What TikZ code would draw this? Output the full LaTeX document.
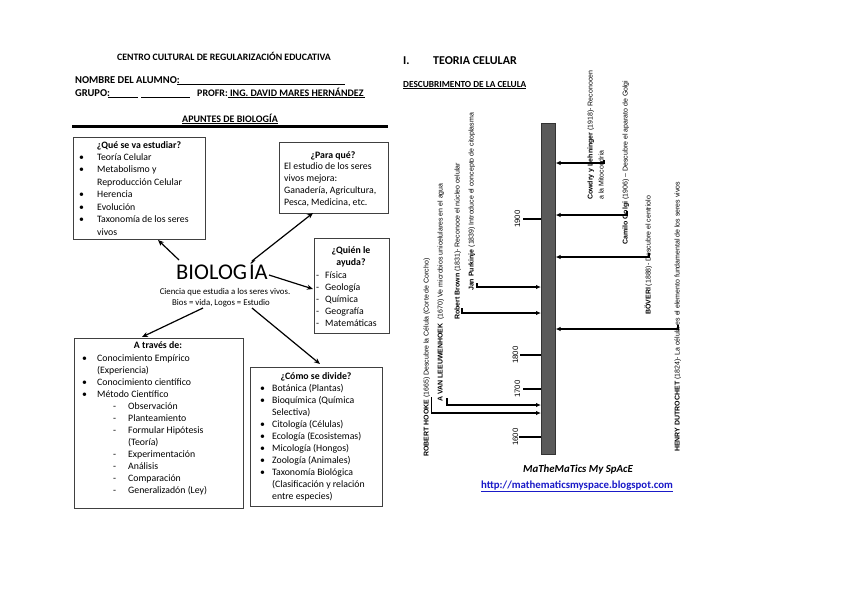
\documentclass[tikz,border=0pt]{standalone}
\usepackage{fontspec}
\setmainfont{Carlito}
\newfontfamily\tlf{Liberation Sans}
\usetikzlibrary{arrows.meta}
\definecolor{barfill}{HTML}{5A5A5A}
\definecolor{linkblue}{HTML}{1A1AC8}
\newcommand{\fs}[2]{\fontsize{#1}{#2}\selectfont}
\newcommand{\bul}[1]{\makebox[#1][l]{\textbullet}}
\newcommand{\dsh}[1]{\makebox[#1][l]{-}}
\begin{document}
\begin{tikzpicture}[x=1pt,y=-1pt,
  box/.style={draw=black!75, line width=0.9pt, inner sep=0, anchor=north west},
  ttl/.style={inner sep=0, anchor=base, font=\fs{9.8}{12.5}\bfseries},
  lst/.style={inner sep=0, anchor=base west, font=\fs{9.8}{12}},
  hdr/.style={inner sep=0, anchor=base west, font=\fs{10.5}{12}\bfseries},
  arr/.style={-{Stealth[length=6pt,width=5pt]}, line width=1.2pt},
  tarr/.style={-{Latex[length=5pt,width=4.5pt]}, line width=1.4pt},
  tickln/.style={line width=2pt},
  tl/.style={rotate=90, inner sep=0, anchor=base west, font=\tlf\fs{7}{8}},
  yr/.style={rotate=90, inner sep=0.5pt, anchor=south, font=\tlf\fs{7.8}{8}},
]
\useasboundingbox (0,0) rectangle (842,595);
\fill[white] (0,0) rectangle (842,595);

% ---------- header ----------
\node[inner sep=0, anchor=base, font=\fs{9.8}{11}\bfseries] (h1) at (224,60) {CENTRO CULTURAL DE REGULARIZACIÓN EDUCATIVA};
\node[hdr] (h2) at (75,83) {NOMBRE DEL ALUMNO:};
\draw[line width=0.6pt] (177,84.5) -- (345,84.5);
\node[hdr] (h3) at (75,96) {GRUPO:};
\draw[line width=0.6pt] (108,97.5) -- (138,97.5);
\draw[line width=0.6pt] (141,97.5) -- (190,97.5);
\node[hdr, font=\fs{10}{12}\bfseries] (h4) at (197,96) {PROFR:\underline{\ ING.\ DAVID\ MARES HERNÁNDEZ\,}};
\node[inner sep=0, anchor=base, font=\fs{10}{12}\bfseries] (h5) at (230,122) {\underline{APUNTES DE BIOLOGÍA}};
\draw[line width=3pt] (72,126) -- (388,126);

% ---------- box 1 ----------
\node[box, minimum width=132pt, minimum height=102pt] (b1) at (73,137) {};
\node[ttl] (b1t) at (139,148) {¿Qué se va estudiar?};
\node[lst, font=\fs{9.8}{12.5}] (b1l) at (79,160) {\begin{tabular}[t]{@{}l@{}}
\bul{18pt}Teoría Celular\\
\bul{18pt}Metabolismo y\\
\hspace{18pt}Reproducción Celular\\
\bul{18pt}Herencia\\
\bul{18pt}Evolución\\
\bul{18pt}Taxonomía de los seres\\
\hspace{18pt}vivos
\end{tabular}};

% ---------- box 2 ----------
\node[box, minimum width=109pt, minimum height=71pt] (b2) at (279,142) {};
\node[ttl] (b2t) at (333,158) {¿Para qué?};
\node[lst] (b2l) at (284,169) {\begin{tabular}[t]{@{}l@{}}
El estudio de los seres\\
vivos mejora:\\
Ganadería, Agricultura,\\
Pesca, Medicina, etc.
\end{tabular}};

% ---------- box 3 ----------
\node[box, minimum width=75pt, minimum height=95pt] (b3) at (314,238) {};
\node[ttl] (b3t) at (351,253) {\begin{tabular}[t]{@{}c@{}}¿Quién le\\ayuda?\end{tabular}};
\node[lst] (b3l) at (316,278) {\begin{tabular}[t]{@{}l@{}}
\dsh{9pt}Física\\
\dsh{9pt}Geología\\
\dsh{9pt}Química\\
\dsh{9pt}Geografía\\
\dsh{9pt}Matemáticas
\end{tabular}};

% ---------- box 4 ----------
\node[box, minimum width=169pt, minimum height=170pt] (b4) at (74,338) {};
\node[ttl] (b4t) at (158,348) {A través de:};
\node[lst] (b4l) at (82,361) {\begin{tabular}[t]{@{}l@{}}
\bul{15pt}Conocimiento Empírico\\
\hspace{15pt}(Experiencia)\\
\bul{15pt}Conocimiento científico\\
\bul{15pt}Método Científico\\
\hspace{31pt}\dsh{15pt}Observación\\
\hspace{31pt}\dsh{15pt}Planteamiento\\
\hspace{31pt}\dsh{15pt}Formular Hipótesis\\
\hspace{46pt}(Teoría)\\
\hspace{31pt}\dsh{15pt}Experimentación\\
\hspace{31pt}\dsh{15pt}Análisis\\
\hspace{31pt}\dsh{15pt}Comparación\\
\hspace{31pt}\dsh{15pt}Generalizadón (Ley)
\end{tabular}};

% ---------- box 5 ----------
\node[box, minimum width=132pt, minimum height=139pt] (b5) at (250,367) {};
\node[ttl] (b5t) at (316,379) {¿Cómo se divide?};
\node[lst] (b5l) at (260,391) {\begin{tabular}[t]{@{}l@{}}
\bul{12pt}Botánica (Plantas)\\
\bul{12pt}Bioquímica (Química\\
\hspace{12pt}Selectiva)\\
\bul{12pt}Citología (Células)\\
\bul{12pt}Ecología (Ecosistemas)\\
\bul{12pt}Micología (Hongos)\\
\bul{12pt}Zoología (Animales)\\
\bul{12pt}Taxonomía Biológica\\
\hspace{12pt}(Clasificación y relación\\
\hspace{12pt}entre especies)
\end{tabular}};

% ---------- centre ----------
\node[inner sep=0, anchor=base, font=\fs{22.5}{24}] (bio) at (222,279) {BIOLOG\hspace{2pt}ÍA};
\node[inner sep=0, anchor=base, font=\fs{8.8}{11}] (def1) at (225,294) {Ciencia que estudia a los seres vivos.};
\node[inner sep=0, anchor=base, font=\fs{8.8}{11}] (def2) at (221,305) {Bios = vida, Logos = Estudio};

\coordinate (a1s) at (179,260); \coordinate (a1e) at (158,240);
\coordinate (a2s) at (252,261); \coordinate (a2e) at (313,213);
\coordinate (a3s) at (269,275); \coordinate (a3e) at (313,289);
\coordinate (a4s) at (203,308); \coordinate (a4e) at (142,337);
\coordinate (a5s) at (252,308); \coordinate (a5e) at (320,364);
\draw[arr] (a1s) -- (a1e);
\draw[arr] (a2s) -- (a2e);
\draw[arr] (a3s) -- (a3e);
\draw[arr] (a4s) -- (a4e);
\draw[arr] (a5s) -- (a5e);

% ---------- right header ----------
\node[inner sep=0, anchor=base west, font=\fs{12}{13}\bfseries] (r1) at (403,64) {I.};
\node[inner sep=0, anchor=base west, font=\fs{12}{13}\bfseries] (r2) at (433,64) {TEORIA CELULAR};
\node[inner sep=0, anchor=base west, font=\fs{9.3}{10}\bfseries] (r3) at (403,87) {\underline{DESCUBRIMENTO DE LA CELULA}};

% ---------- timeline ----------
\node[draw=black!80, fill=barfill, line width=0.6pt, minimum width=14pt, minimum height=331pt, anchor=north west, inner sep=0] (bar) at (541,123) {};
\draw[tickln] (519,437) -- (bar.west |- 0,437);
\draw[tickln] (523,389) -- (bar.west |- 0,389);
\draw[tickln] (520,355) -- (bar.west |- 0,355);
\draw[tickln] (523,219) -- (bar.west |- 0,219);
\node[yr] (y1600) at (519,437) {1600};
\node[yr] (y1700) at (521,389) {1700};
\node[yr] (y1800) at (519,355) {1800};
\node[yr] (y1900) at (521,219) {1900};

\node[tl] (hooke) at (428.5,457) {\textbf{ROBERT HOOKE} (1665) Descubre la Célula (Corte de Corcho)};
\node[tl] (leeu) at (442.5,402) {\textbf{A VAN LEEUWENHOEK}\ \ (1670) Ve microbios unicelulares en el agua};
\node[tl] (brown) at (459.5,320) {\textbf{Robert Brown} (1831)- Reconoce el núcleo celular};
\node[tl] (purk) at (473.5,291) {\textbf{Jan Purkinje} (1839) Introduce el concepto de citoplasma};
\node[tl] (cow1) at (592.5,200) {\textbf{Cowdry y Lehninger} (1918)- Reconocen};
\node[tl] (cow2) at (603.5,200) {a la Mitocondria};
\node[tl] (golgi) at (627.5,245) {\textbf{Camilo Golgi} (1906) – Descubre el aparato de Golgi};
\node[tl] (boveri) at (650.5,315) {\textbf{BÖVERI} (1888)- Descubre el centriolo};
\node[tl] (dutro) at (679.5,452) {\textbf{HENRY DUTROCHET} (1824)- La célula es el elemento fundamental de los seres vivos};

\coordinate (hk) at (431.5,397);
\coordinate (lw) at (447,398);
\coordinate (br) at (462,308);
\coordinate (pk) at (477,283);
\coordinate (cw) at (604,160);
\coordinate (gg) at (627,211);
\coordinate (bv) at (649,253);
\coordinate (dt) at (678,325);
\draw[tarr] (hk) |- (bar.west |- 0,413);
\draw[tarr] (lw) |- (bar.west |- 0,405);
\draw[tarr] (br) |- (bar.west |- 0,313);
\draw[tarr] (pk) |- (bar.west |- 0,287);
\draw[tarr] (cw) |- (bar.east |- 0,163);
\draw[tarr] (gg) |- (bar.east |- 0,215);
\draw[tarr] (bv) |- (bar.east |- 0,257);
\draw[tarr] (dt) |- (bar.east |- 0,329);

% ---------- footer ----------
\node[inner sep=0, anchor=base, font=\fs{10.8}{12}\bfseries\itshape] (m1) at (578,472) {MaTheMaTics My SpAcE};
\node[inner sep=0, anchor=base, font=\fs{10.8}{12}\bfseries, text=linkblue] (m2) at (577,488) {\underline{http://mathematicsmyspace.blogspot.com}};
\end{tikzpicture}
\end{document}
